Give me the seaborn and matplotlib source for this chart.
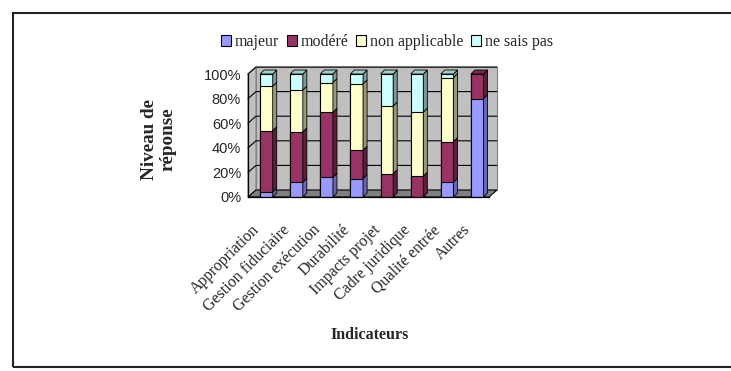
import numpy as np
import pandas as pd
import matplotlib
matplotlib.use("Agg")
import matplotlib.pyplot as plt
import matplotlib.transforms as mtransforms
from matplotlib.patches import Polygon, Patch, Rectangle
import seaborn as sns

# ---- data (share of responses, %) ----
categories = ["Appropriation", "Gestion fiduciaire", "Gestion exécution", "Durabilité",
              "Impacts projet", "Cadre juridique", "Qualité entrée", "Autres"]
majeur = [4, 12, 16, 15, 0, 0, 12, 80]
modere = [50, 41, 53, 23, 19, 17, 33, 20]
non_applicable = [36, 34, 24, 54, 55, 52, 52, 0]
ne_sais_pas = [10, 13, 7, 8, 26, 31, 3, 0]

series_names = ["majeur", "modéré", "non applicable", "ne sais pas"]
series_values = [majeur, modere, non_applicable, ne_sais_pas]
face_colors = ["#9999FF", "#993366", "#FFFFCC", "#CCFFFF"]
side_colors = ["#6666B3", "#5C1F3D", "#99997A", "#7A9999"]
top_colors = ["#7A7ACC", "#7A2952", "#CCCCA3", "#A3CCCC"]
y_ticks = [0, 20, 40, 60, 80, 100]

sns.set_style("white")
plt.rcParams["font.family"] = ["Liberation Serif", "DejaVu Serif"]

fig = plt.figure(figsize=(7.31, 3.71), dpi=100)
W, H = 731, 371

# outer chart frame
fig.patches.append(Rectangle((13 / W, 4 / H), (W + 5 - 13) / W, (367 - 13) / H,
                             transform=fig.transFigure, fill=False,
                             edgecolor="#222222", linewidth=1.5, clip_on=False))

ax = fig.add_axes([248 / W, (H - 197) / H, 241 / W, 123 / H])

# stacked bars: draw cumulative totals from the top segment down
df = pd.DataFrame({name: vals for name, vals in zip(series_names, series_values)},
                  index=categories)
cum = df.cumsum(axis=1)
for name, col in reversed(list(zip(series_names, face_colors))):
    sns.barplot(x=categories, y=cum[name].values, color=col, saturation=1,
                edgecolor="black", linewidth=0.8, width=0.42, ax=ax, zorder=3)

# horizontal extent of each bar, taken from the drawn rectangles
bar_x = {}
for p in ax.patches:
    if isinstance(p, Rectangle):
        bar_x.setdefault(int(round(p.get_x() + p.get_width() / 2)),
                         (p.get_x(), p.get_x() + p.get_width()))

xmin, xmax = -0.61, 7.39
ax.set_xlim(xmin, xmax)
ax.set_ylim(0, 100)

# depth of the plot box and of the bars, in data units
dx, dy = 8 / 30.1, 7 / 1.23
bdx, bdy = 4 / 30.1, 4 / 1.23

# back wall, side wall and floor
wall_kw = dict(closed=True, clip_on=False, zorder=0, linewidth=0.8)
ax.add_patch(Polygon([(xmin + dx, dy), (xmax + dx, dy), (xmax + dx, 100 + dy),
                      (xmin + dx, 100 + dy)], facecolor="#C0C0C0",
                     edgecolor="#808080", **wall_kw))
ax.add_patch(Polygon([(xmin, 0), (xmin + dx, dy), (xmin + dx, 100 + dy), (xmin, 100)],
                     facecolor="#C0C0C0", edgecolor="#808080", **wall_kw))
ax.add_patch(Polygon([(xmin, 0), (xmax, 0), (xmax + dx, dy), (xmin + dx, dy)],
                     facecolor="#808080", edgecolor="black", **wall_kw))
for t in y_ticks[1:]:
    ax.plot([xmin, xmin + dx, xmax + dx], [t, t + dy, t + dy], color="black",
            linewidth=0.8, clip_on=False, zorder=1)

# side and top faces of every bar segment
for i in range(len(categories)):
    xl, xr = bar_x[i]
    bottom = 0
    top_idx = None
    for k, vals in enumerate(series_values):
        v = vals[i]
        if v <= 0:
            continue
        ax.add_patch(Polygon([(xr, bottom), (xr + bdx, bottom + bdy),
                              (xr + bdx, bottom + v + bdy), (xr, bottom + v)],
                             closed=True, facecolor=side_colors[k], edgecolor="black",
                             linewidth=0.6, clip_on=False, zorder=3))
        bottom += v
        top_idx = k
    ax.add_patch(Polygon([(xl, bottom), (xl + bdx, bottom + bdy),
                          (xr + bdx, bottom + bdy), (xr, bottom)],
                         closed=True, facecolor=top_colors[top_idx], edgecolor="black",
                         linewidth=0.6, clip_on=False, zorder=3))

# axes styling
for s in ["top", "right"]:
    ax.spines[s].set_visible(False)
for s in ["left", "bottom"]:
    ax.spines[s].set_color("black")
    ax.spines[s].set_linewidth(0.9)
    ax.spines[s].set_zorder(4)
ax.set_facecolor("none")

ax.set_yticks(y_ticks)
ax.set_yticklabels([f"{t}%" for t in y_ticks], fontfamily="Liberation Sans", fontsize=10.5)
ax.tick_params(axis="y", direction="out", length=4, width=0.9, color="black", pad=1)

ax.set_xticks(range(len(categories)))
ax.set_xticklabels(categories, rotation=45, ha="right", va="center",
                   rotation_mode="anchor", fontsize=11.5)
ax.tick_params(axis="x", which="major", length=0, pad=22)
shift = mtransforms.ScaledTranslation(-9 / 100, 0, fig.dpi_scale_trans)
for lbl in ax.get_xticklabels():
    lbl.set_transform(lbl.get_transform() + shift)
ax.set_xticks(np.arange(len(categories) + 1) + xmin, minor=True)
ax.tick_params(axis="x", which="minor", direction="out", length=4, width=0.9, color="black")
ax.set_xlabel("")
ax.set_ylabel("")
ax.grid(False)

fig.text(159 / W, 1 - 139 / H, "Niveau de\nréponse", rotation=90, ha="center",
         va="center", multialignment="center", fontsize=13.8, fontweight="bold",
         linespacing=1.1)
fig.text(370 / W, 1 - 335 / H, "Indicateurs", ha="center", va="center",
         fontsize=11.5, fontweight="bold")

handles = [Patch(facecolor=c, edgecolor="black", linewidth=0.8) for c in face_colors]
fig.legend(handles, series_names, loc="center", bbox_to_anchor=(387 / W, 1 - 42 / H),
           ncol=4, frameon=False, fontsize=11.5, handlelength=0.65, handleheight=0.65,
           handletextpad=0.25, columnspacing=0.45, borderpad=0)

fig.savefig("out.png", dpi=100)
